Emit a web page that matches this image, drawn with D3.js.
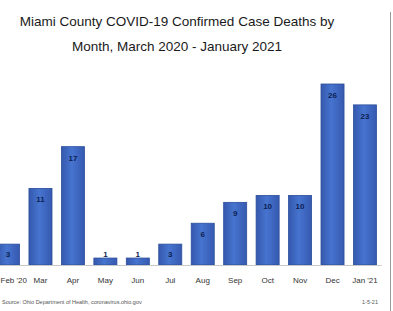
<!DOCTYPE html>
<html>
<head>
<meta charset="utf-8">
<script src="https://cdn.jsdelivr.net/npm/d3@7"></script>
<style>
  html, body { margin: 0; padding: 0; background: #fff; overflow: hidden; }
  svg { display: block; font-family: "Liberation Sans", Arial, sans-serif; }
</style>
</head>
<body>
<div id="chart"></div>
<script>
// dati
var months = ["Feb '20", "Mar", "Apr", "May", "Jun", "Jul", "Aug", "Sep", "Oct", "Nov", "Dec", "Jan '21"];
var deaths = [3, 11, 17, 1, 1, 3, 6, 9, 10, 10, 26, 23];
var titleLines = ["Miami County COVID-19 Confirmed Case Deaths by", "Month, March 2020 - January 2021"];
var sourceText = "Source: Ohio Department of Health, coronavirus.ohio.gov";
var dateText = "1-5-21";

var W = 393, H = 311;
var baseY = 265, topY = 84;

var svg = d3.select("#chart").append("svg")
  .attr("width", W)
  .attr("height", H);

// gradiente per le barre
var grad = svg.append("defs").append("linearGradient")
  .attr("id", "barGrad")
  .attr("x1", "0%").attr("x2", "100%").attr("y1", "0%").attr("y2", "0%");
grad.append("stop").attr("offset", "0%").attr("stop-color", "#3558ad");
grad.append("stop").attr("offset", "45%").attr("stop-color", "#4674cf");
grad.append("stop").attr("offset", "100%").attr("stop-color", "#3659b0");

// bordo destro della cornice
svg.append("line")
  .attr("x1", 390.5).attr("x2", 390.5)
  .attr("y1", 12).attr("y2", 311)
  .style("stroke", "#9a9a9a")
  .style("stroke-width", "1px");

// titolo
svg.selectAll(".title")
  .data(titleLines)
  .enter()
  .append("text")
  .attr("class", "title")
  .attr("x", 177)
  .attr("y", function(d, i){ return 26 + i * 25; })
  .attr("text-anchor", "middle")
  .style("font-size", "13.5px")
  .style("fill", "#1a1a1a")
  .text(function(d){ return d; });

var x = d3.scaleBand()
  .domain(months)
  .range([-8.2, 381.2])
  .paddingInner(0.29)
  .paddingOuter(0.145);

var y = d3.scaleLinear()
  .domain([0, 26])
  .range([baseY, topY]);

// barre
svg.selectAll(".bar")
  .data(deaths)
  .enter()
  .append("rect")
  .attr("class", "bar")
  .attr("x", function(d, i){ return x(months[i]); })
  .attr("y", function(d){ return y(d); })
  .attr("width", x.bandwidth())
  .attr("height", function(d){ return baseY - y(d); })
  .style("fill", "url(#barGrad)")
  .style("stroke", "#2c4e9c")
  .style("stroke-width", "0.8px");

// etichette dei valori
svg.selectAll(".val")
  .data(deaths)
  .enter()
  .append("text")
  .attr("class", "val")
  .attr("x", function(d, i){ return x(months[i]) + x.bandwidth() / 2; })
  .attr("y", function(d){ return Math.min(y(d) + 14, baseY - 8); })
  .attr("text-anchor", "middle")
  .style("font-size", "8px")
  .style("font-weight", "bold")
  .style("fill", "#0d1f52")
  .text(function(d){ return d; });

// asse x
var xAxis = svg.append("g")
  .attr("transform", "translate(0," + baseY + ")")
  .call(d3.axisBottom(x).tickSize(0).tickPadding(12));
xAxis.select(".domain").style("stroke", "#c8c8c8");
xAxis.selectAll("text")
  .style("font-family", "Liberation Sans, Arial, sans-serif")
  .style("font-size", "8px")
  .style("fill", "#333");
// la prima etichetta va spostata dentro il bordo sinistro
xAxis.selectAll(".tick")
  .filter(function(d, i){ return i === 0; })
  .select("text")
  .attr("text-anchor", "start")
  .attr("x", 0.5 - x(months[0]) - x.bandwidth() / 2);

// fonte e data
svg.append("text")
  .attr("x", 2).attr("y", 304)
  .style("font-size", "5.5px")
  .style("fill", "#555")
  .text(sourceText);
svg.append("text")
  .attr("x", 378).attr("y", 304)
  .attr("text-anchor", "end")
  .style("font-size", "5.5px")
  .style("fill", "#555")
  .text(dateText);
</script>
</body>
</html>
